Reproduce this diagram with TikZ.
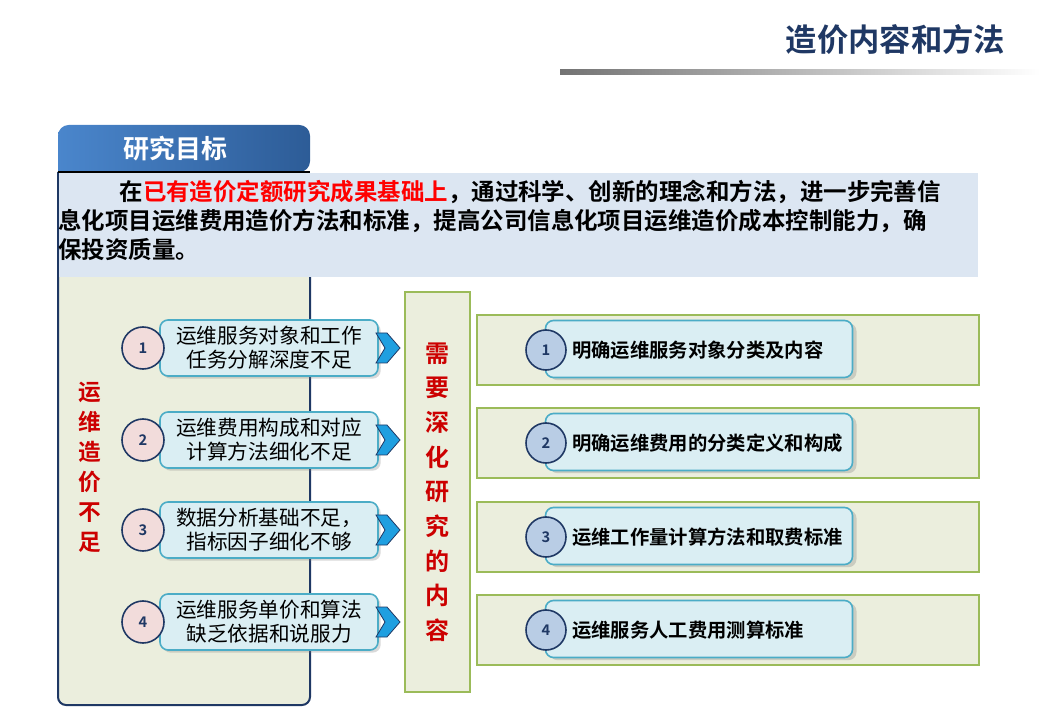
\documentclass[tikz,border=0pt]{standalone}
\usepackage{fontspec}
\setmainfont{Noto Sans CJK SC}[BoldFont={* Bold}]
\usetikzlibrary{shadows}
\definecolor{navy}{HTML}{1F3864}
\definecolor{tabA}{HTML}{4A86CC}
\definecolor{tabB}{HTML}{2D5C97}
\definecolor{lblue}{HTML}{DCE6F2}
\definecolor{lgreen}{HTML}{EBEEDD}
\definecolor{ggreen}{HTML}{9BBB59}
\definecolor{cyanb}{HTML}{4BACC6}
\definecolor{cyanf}{HTML}{DAEEF3}
\definecolor{pinkf}{HTML}{F2DCDB}
\definecolor{circb}{HTML}{B9CDE5}
\definecolor{chev}{HTML}{1F9FE0}
\tikzset{
 lbox/.style={draw=cyanb,fill=cyanf,line width=1.2pt,rounded corners=6pt,minimum width=218*0.75pt,minimum height=56*0.75pt,align=center,font=\fontsize{15.5}{18}\selectfont,inner sep=0pt,drop shadow={opacity=0.3,shadow xshift=2pt,shadow yshift=-2pt}},
 lcirc/.style={circle,draw=navy,fill=pinkf,line width=1.2pt,minimum size=42*0.75pt,font=\bfseries\fontsize{11}{12}\selectfont,text=navy,inner sep=0pt},
 gbox/.style={draw=ggreen,fill=lgreen,line width=2pt},
 rbox/.style={draw=cyanb,fill=cyanf,line width=1.2pt,rounded corners=6pt,minimum width=307*0.75pt,minimum height=57*0.75pt,inner sep=0pt,drop shadow={opacity=0.3,shadow xshift=3pt,shadow yshift=-2pt}},
 rcirc/.style={circle,draw=navy,fill=circb,line width=1.2pt,minimum size=40*0.75pt,font=\bfseries\fontsize{11}{12}\selectfont,text=navy,inner sep=0pt},
 rtext/.style={anchor=west,font=\bfseries\fontsize{14.5}{16}\selectfont,inner sep=0pt},
 chevron/.style={fill=chev,draw=navy,line width=0.6pt},
}
\begin{document}
\begin{tikzpicture}[x=0.75pt,y=-0.75pt]
\useasboundingbox (0,0) rectangle (1040,720);
% title
\node[font=\bfseries\fontsize{23.5}{26}\selectfont,text=navy,anchor=east] (title) at (1010,40) {造价内容和方法};
\shade[left color=gray!90!black,right color=white] (560,70) rectangle (1040,75);
% left panel
\draw[navy,line width=1.5pt,fill=lgreen,rounded corners=6pt] (58,172) -- (58,705) -- (310,705) -- (310,277);
\shade[left color=tabA,right color=tabB,rounded corners=8pt] (58,172) -- (58,125) -- (310,125) -- (310,172) [sharp corners] -- cycle;
\draw[black,line width=1pt] (58,172) -- (310,172);
\node[text=white,font=\bfseries\fontsize{19.5}{22}\selectfont] (tab) at (175,149) {研究目标};
\fill[lblue] (59,173) rectangle (978,277);
\node[anchor=north west,align=left,inner sep=0pt,font=\bfseries\fontsize{17.6}{21.8}\selectfont] (goal) at (58,180)
{\hspace*{46pt}在\textcolor{red}{已有造价定额研究成果基础上}，通过科学、创新的理念和方法，进一步完善信\\息化项目运维费用造价方法和标准，提高公司信息化项目运维造价成本控制能力，确\\保投资质量。};
\node[text=red!80!black,font=\bfseries\fontsize{17}{22.5}\selectfont,align=center] (lack) at (90,467) {运\\维\\造\\价\\不\\足};
% middle box
\draw[gbox] (405,292) rectangle (470,692);
\node[text=red!80!black,font=\bfseries\fontsize{18}{26}\selectfont,align=center] (need) at (437,492) {需\\要\\深\\化\\研\\究\\的\\内\\容};
% left items
\foreach \i/\y/\t in {1/348/{运维服务对象和工作\\任务分解深度不足},2/440/{运维费用构成和对应\\计算方法细化不足},3/530/{数据分析基础不足，\\指标因子细化不够},4/622/{运维服务单价和算法\\缺乏依据和说服力}}{
 \node[lbox] (L\i) at (269,\y) {\t};
 \node[lcirc] (C\i) at (143,\y) {\i};
 \path[chevron] (376,\y-15) -- (387,\y-15) -- (400,\y) -- (387,\y+15) -- (376,\y+15) -- (385,\y) -- cycle;
}
% right items
\foreach \i/\y/\t in {1/350/明确运维服务对象分类及内容,2/443/明确运维费用的分类定义和构成,3/537/运维工作量计算方法和取费标准,4/630/运维服务人工费用测算标准}{
 \draw[gbox] (477,\y-35) rectangle (979,\y+35);
 \node[rbox] (R\i) at (699,\y-1) {};
 \node[rcirc] (D\i) at (546,\y) {\i};
 \node[rtext] (T\i) at (572,\y) {\t};
}
\end{tikzpicture}
\end{document}
